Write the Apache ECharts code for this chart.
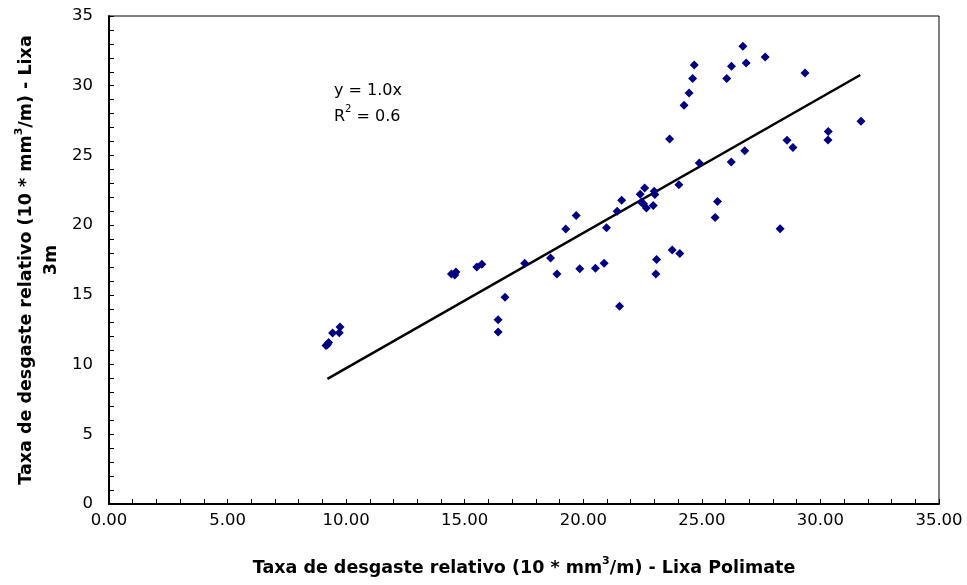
<!DOCTYPE html>
<html>
<head>
<meta charset="utf-8">
<title>Taxa de desgaste relativo</title>
<script src="https://cdn.jsdelivr.net/npm/echarts@6/dist/echarts.min.js"></script>
<style>
  html, body { margin: 0; padding: 0; background: #fff; }
  #chart { width: 967px; height: 585px; }
</style>
</head>
<body>
<div id="chart"></div>
<script>
// Lixa Polimate (x) vs Lixa 3m (y), 10 * mm3/m
const xPolimate = [
  9.15, 9.21, 9.26, 9.43, 9.71, 9.74,
  14.44, 14.58, 14.63, 15.51, 15.72,
  16.41, 16.41, 16.70,
  17.53, 18.62, 18.89, 19.26, 19.70, 19.85, 20.51, 20.88, 20.98, 21.43, 21.53, 21.62,
  22.40, 22.59, 22.99, 23.02, 22.45, 22.54, 22.66, 22.95,
  23.06, 23.09, 23.75, 24.07, 23.64, 24.03, 24.89,
  24.25, 24.46, 24.61, 24.68, 26.05, 26.25, 26.73, 26.87, 27.67, 29.35,
  25.56, 25.66, 26.24, 26.81, 28.30, 28.59, 28.84, 30.32, 30.33, 31.71
];
const y3m = [
  11.36, 11.43, 11.59, 12.27, 12.29, 12.70,
  16.50, 16.43, 16.64, 17.00, 17.19,
  13.22, 12.34, 14.82,
  17.26, 17.65, 16.50, 19.73, 20.70, 16.88, 16.90, 17.26, 19.82, 20.99, 14.18, 21.78,
  22.21, 22.67, 22.43, 22.19, 21.64, 21.54, 21.23, 21.40,
  16.50, 17.53, 18.22, 17.96, 26.18, 22.90, 24.46,
  28.60, 29.48, 30.51, 31.49, 30.51, 31.39, 32.83, 31.63, 32.06, 30.92,
  20.54, 21.69, 24.53, 25.34, 19.75, 26.08, 25.56, 26.11, 26.71, 27.45
];
// linear trend line (y = 1.0x), read at its two ends
const trendX = [9.21, 31.68];
const trendY = [8.97, 30.77];
const eqText = 'y = 1.0x';
const r2Value = '0.6';

const FONT = '"DejaVu Sans", "Liberation Sans", Arial, sans-serif';

const points = xPolimate.map((x, i) => [x, y3m[i]]);
const trend = trendX.map((x, i) => [x, trendY[i]]);

const chart = echarts.init(document.getElementById('chart'));

const titleRich = {
  a: { fontFamily: FONT, fontSize: 17.5, fontWeight: 'bold', color: '#000', lineHeight: 25 },
  sup: { fontFamily: FONT, fontSize: 11, fontWeight: 'bold', color: '#000', verticalAlign: 'top', lineHeight: 25, padding: [0, 0, 8, 0] }
};

chart.setOption({
  animation: false,
  backgroundColor: '#fff',
  grid: {
    left: 109, right: 28, top: 16, bottom: 81,
    containLabel: false,
    outerBoundsMode: 'none',
    show: true, borderColor: '#000', borderWidth: 1
  },
  xAxis: {
    type: 'value',
    min: 0, max: 35, interval: 5,
    name: '{a|Taxa de desgaste relativo (10 * mm}{sup|3}{a|/m) - Lixa Polimate}',
    nameLocation: 'middle',
    nameGap: 52,
    nameTextStyle: { rich: titleRich },
    axisLine: { show: true, lineStyle: { color: '#000', width: 2 } },
    axisTick: { show: true, inside: true, length: 5, lineStyle: { color: '#000', width: 1 } },
    minorTick: { show: true, splitNumber: 5, length: 5, lineStyle: { color: '#000', width: 1 } },
    splitLine: { show: false },
    axisLabel: {
      fontFamily: FONT, fontSize: 16.5, color: '#000', margin: 8,
      formatter: v => v.toFixed(2)
    }
  },
  yAxis: {
    type: 'value',
    min: 0, max: 35, interval: 5,
    name: '{a|Taxa de desgaste relativo (10 * mm}{sup|3}{a|/m) - Lixa}\n{a|3m}',
    nameLocation: 'middle',
    nameRotate: 90,
    nameGap: 45,
    nameTextStyle: { rich: titleRich },
    axisLine: { show: true, lineStyle: { color: '#000', width: 2 } },
    axisTick: { show: true, inside: true, length: 5, lineStyle: { color: '#000', width: 1 } },
    minorTick: { show: true, splitNumber: 5, length: 5, lineStyle: { color: '#000', width: 1 } },
    splitLine: { show: false },
    axisLabel: { fontFamily: FONT, fontSize: 16.5, color: '#000', margin: 16 }
  },
  graphic: [{
    type: 'text',
    left: 334, top: 83,
    style: {
      text: '{t|' + eqText + '}\n{t|R}{s|2}{t| = ' + r2Value + '}',
      rich: {
        t: { fontFamily: FONT, fontSize: 16, fill: '#000', lineHeight: 26 },
        s: { fontFamily: FONT, fontSize: 10, fill: '#000', verticalAlign: 'top', lineHeight: 26, padding: [0, 0, 8, 0] }
      }
    }
  }],
  series: [
    {
      type: 'scatter',
      data: points,
      symbol: 'diamond',
      symbolSize: 9,
      itemStyle: { color: '#000080', opacity: 1 },
      z: 3
    },
    {
      type: 'line',
      data: trend,
      showSymbol: false,
      symbol: 'none',
      lineStyle: { color: '#000', width: 2.5 },
      z: 2
    }
  ]
});
</script>
</body>
</html>
